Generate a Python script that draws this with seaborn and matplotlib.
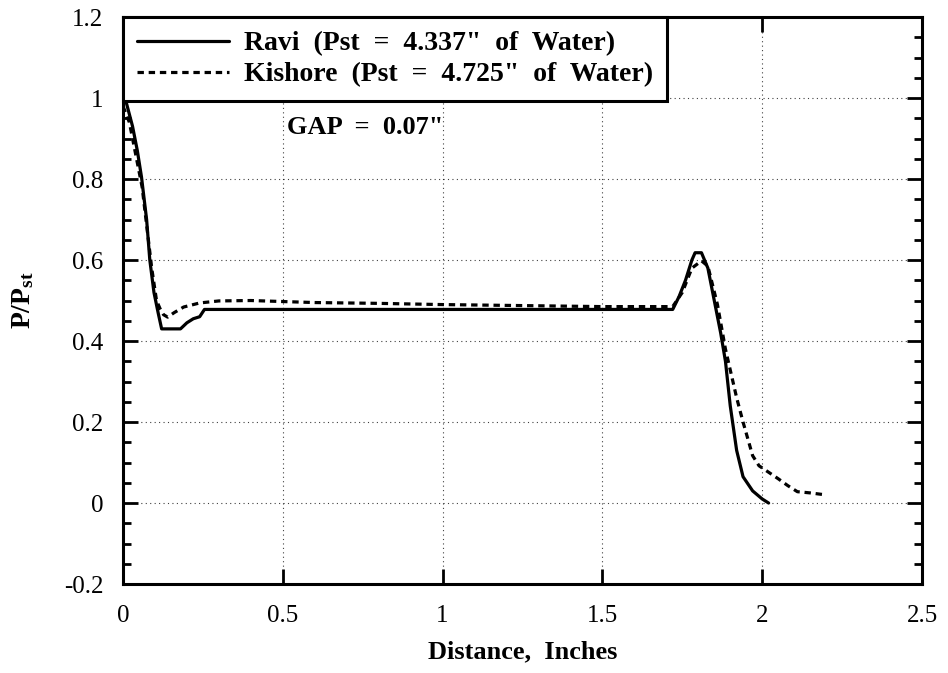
import matplotlib
matplotlib.use("Agg")
import matplotlib.pyplot as plt
from matplotlib.ticker import MultipleLocator
import seaborn as sns
import pandas as pd

# ---- data ----
ravi_x = [0, 0.01, 0.03, 0.045, 0.058, 0.074, 0.084, 0.097, 0.11, 0.121, 0.15, 0.18,
          0.2, 0.22, 0.24, 0.255, 0.5, 1.0, 1.5, 1.72, 1.74, 1.76, 1.78, 1.79, 1.81,
          1.83, 1.85, 1.87, 1.885, 1.90, 1.92, 1.94, 1.97, 2.0, 2.02]
ravi_y = [1.0, 0.99, 0.93, 0.87, 0.805, 0.70, 0.60, 0.52, 0.47, 0.43, 0.43, 0.43,
          0.445, 0.455, 0.46, 0.478, 0.478, 0.478, 0.478, 0.478, 0.51, 0.55, 0.60, 0.618, 0.618,
          0.58, 0.50, 0.42, 0.35, 0.24, 0.13, 0.065, 0.03, 0.01, 0.0]

kishore_x = [0, 0.02, 0.04, 0.06, 0.075, 0.09, 0.105, 0.116, 0.127, 0.14, 0.16, 0.19,
             0.24, 0.30, 0.4, 0.6, 0.8, 1.0, 1.2, 1.5, 1.72, 1.75, 1.78, 1.81, 1.83,
             1.86, 1.885, 1.92, 1.94, 1.97, 1.99, 2.05, 2.08, 2.11, 2.15, 2.2]
kishore_y = [0.98, 0.94, 0.86, 0.78, 0.68, 0.58, 0.50, 0.48, 0.465, 0.459, 0.47, 0.484,
             0.494, 0.499, 0.50, 0.495, 0.493, 0.49, 0.488, 0.485, 0.485, 0.52, 0.58, 0.598, 0.585,
             0.49, 0.38, 0.26, 0.20, 0.117, 0.092, 0.06, 0.043, 0.028, 0.025, 0.02]

series_labels = ['Ravi  (Pst  =  4.337"  of  Water)',
                 'Kishore  (Pst  =  4.725"  of  Water)']
x_ticks = [0, 0.5, 1, 1.5, 2, 2.5]
x_tick_labels = ['0', '0.5', '1', '1.5', '2', '2.5']
y_ticks = [-0.2, 0, 0.2, 0.4, 0.6, 0.8, 1.0, 1.2]
y_tick_labels = ['-0.2', '0', '0.2', '0.4', '0.6', '0.8', '1', '1.2']
annotation = 'GAP  =  0.07"'

# ---- plotting ----
sns.set_theme(style="ticks")
plt.rcParams['font.family'] = ['Liberation Serif', 'DejaVu Serif']
plt.rcParams.update({
    'text.color': 'black', 'axes.labelcolor': 'black',
    'xtick.color': 'black', 'ytick.color': 'black',
    'mathtext.fontset': 'custom',
    'mathtext.rm': 'Liberation Serif:bold',
    'mathtext.bf': 'Liberation Serif:bold',
    'mathtext.it': 'Liberation Serif:bold',
})

fig = plt.figure(figsize=(9.48, 6.73), dpi=100)
ax = fig.add_axes([0.1297, 0.1322, 0.8429, 0.8425])

df_r = pd.DataFrame({'x': ravi_x, 'y': ravi_y})
df_k = pd.DataFrame({'x': kishore_x, 'y': kishore_y})

sns.lineplot(data=df_r, x='x', y='y', ax=ax, color='black', lw=2.3,
             label=series_labels[0], sort=False, estimator=None)
sns.lineplot(data=df_k, x='x', y='y', ax=ax, color='black', lw=2.3,
             linestyle=(0, (2.0, 1.5)), label=series_labels[1], sort=False, estimator=None)

ax.set_xlim(0, 2.5)
ax.set_ylim(-0.2, 1.2)
ax.set_xticks(x_ticks)
ax.set_xticklabels(x_tick_labels)
ax.set_yticks(y_ticks)
ax.set_yticklabels(y_tick_labels)
ax.yaxis.set_minor_locator(MultipleLocator(0.05))

ax.grid(True, which='major', linestyle=(0, (1, 3)), color='black', lw=0.8, alpha=0.75)
ax.tick_params(which='both', direction='in', top=True, right=True, labelsize=18,
               colors='black', width=2.0)
ax.tick_params(which='major', length=11)
ax.tick_params(axis='y', which='major', pad=14)
ax.tick_params(axis='x', which='major', pad=15)
ax.tick_params(which='minor', length=5.5)
ax.tick_params(axis='x', which='minor', bottom=False, top=False)
for s in ax.spines.values():
    s.set_linewidth(2.2)
    s.set_color('black')

ax.set_xlabel('Distance,  Inches', fontsize=19, fontweight='bold', labelpad=10)
ax.set_ylabel(r'$\mathbf{P/P_{st}}$', fontsize=20, labelpad=20)

ax.text(0.514, 0.928, annotation, fontsize=19, fontweight='bold', ha='left', va='center')

leg = ax.legend(loc='upper left', bbox_to_anchor=(0, 1), borderaxespad=0,
                prop={'weight': 'bold', 'size': 20}, handlelength=3.3,
                frameon=True, fancybox=False, framealpha=1, edgecolor='black',
                borderpad=0.5, labelspacing=0.2, handletextpad=0.55)
leg.get_frame().set_linewidth(2.2)
leg.set_zorder(10)

fig.savefig('out.png', dpi=100)
